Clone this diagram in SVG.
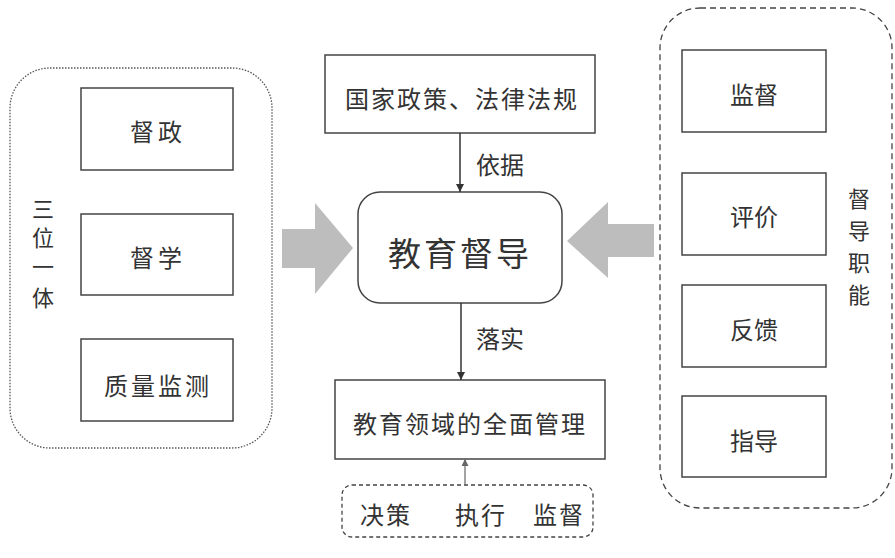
<svg xmlns="http://www.w3.org/2000/svg" width="895" height="558" viewBox="0 0 895 558">
<style>
text{font-family:"Noto Sans CJK SC","Noto Sans CJK JP",sans-serif;fill:#333;text-anchor:middle;dominant-baseline:central}
.box{fill:#fff;stroke:#444;stroke-width:1.5}
.t{font-size:24px}
.v{font-size:22px}
.big{font-size:33px;letter-spacing:3px}
.fat{fill:#bdbdbd;stroke:none}
.line{stroke:#333;stroke-width:1.5;fill:none}
</style>
<defs>
<marker id="ah" viewBox="0 0 10 10" refX="10" refY="5" markerWidth="8" markerHeight="8" markerUnits="userSpaceOnUse" orient="auto">
<path d="M0,0 L10,5 L0,10 z" fill="#333"/>
</marker>
<marker id="ah2" viewBox="0 0 10 10" refX="10" refY="5" markerWidth="7" markerHeight="7" markerUnits="userSpaceOnUse" orient="auto">
<path d="M0,0 L10,5 L0,10 z" fill="#666"/>
</marker>
</defs>
<rect width="895" height="558" fill="#fff"/>

<g id="left-group">
<rect x="10" y="68" width="262" height="380" rx="40" fill="none" stroke="#555" stroke-width="1.3" stroke-dasharray="1.5 1.5"/>
<text class="v" x="43" y="207">三</text>
<text class="v" x="43" y="236">位</text>
<text class="v" x="43" y="265">一</text>
<text class="v" x="43" y="296">体</text>
</g>
<g id="n-duzheng"><rect class="box" x="81" y="88" width="152" height="82"/><text class="t" x="158" y="130" letter-spacing="4">督政</text></g>
<g id="n-duxue"><rect class="box" x="81" y="214" width="152" height="81"/><text class="t" x="158" y="256" letter-spacing="4">督学</text></g>
<g id="n-zhiliang"><rect class="box" x="81" y="339" width="152" height="82"/><text class="t" x="158" y="384" letter-spacing="3">质量监测</text></g>

<g id="n-policy"><rect class="box" x="325" y="55" width="270" height="78"/><text class="t" x="462" y="97" font-size="25" letter-spacing="2">国家政策、法律法规</text></g>
<g id="n-core"><rect class="box" x="358" y="192" width="204" height="111" rx="22"/><text class="big" x="460" y="252">教育督导</text></g>
<g id="n-manage"><rect class="box" x="335" y="380" width="270" height="79"/><text class="t" x="470" y="422" font-size="25" letter-spacing="2">教育领域的全面管理</text></g>
<g id="n-bottom">
<rect x="342" y="485" width="251" height="52" rx="10" fill="none" stroke="#444" stroke-width="1.3" stroke-dasharray="4 3"/>
<text class="t" x="386" y="513" letter-spacing="2">决策</text>
<text class="t" x="481" y="513" letter-spacing="2">执行</text>
<text class="t" x="559" y="513" letter-spacing="2">监督</text>
</g>

<g id="right-group">
<rect x="660" y="8" width="232" height="500" rx="40" fill="none" stroke="#444" stroke-width="1.3" stroke-dasharray="6 4"/>
<text class="v" x="859" y="197">督</text>
<text class="v" x="859" y="229">导</text>
<text class="v" x="859" y="261">职</text>
<text class="v" x="859" y="293">能</text>
</g>
<g id="n-jiandu"><rect class="box" x="682" y="50" width="144" height="82"/><text class="t" x="754" y="93">监督</text></g>
<g id="n-pingjia"><rect class="box" x="682" y="173" width="144" height="82"/><text class="t" x="754" y="215">评价</text></g>
<g id="n-fankui"><rect class="box" x="682" y="285" width="144" height="82"/><text class="t" x="754" y="328">反馈</text></g>
<g id="n-zhidao"><rect class="box" x="682" y="396" width="144" height="81"/><text class="t" x="754" y="439">指导</text></g>

<g id="connectors">
<line class="line" x1="460" y1="133" x2="460" y2="192" marker-end="url(#ah)"/>
<text class="t" x="500" y="163">依据</text>
<line class="line" x1="461" y1="303" x2="461" y2="380" marker-end="url(#ah)"/>
<text class="t" x="500" y="337">落实</text>
<line x1="465" y1="485" x2="465" y2="459" stroke="#666" stroke-width="1.2" marker-end="url(#ah2)"/>
<path class="fat" d="M282,229 L315,229 L315,203 L353,248 L315,294 L315,268 L282,268 Z"/>
<path class="fat" d="M654,224 L608,224 L608,202 L567,241 L608,278 L608,257 L654,257 Z"/>
</g>
</svg>
